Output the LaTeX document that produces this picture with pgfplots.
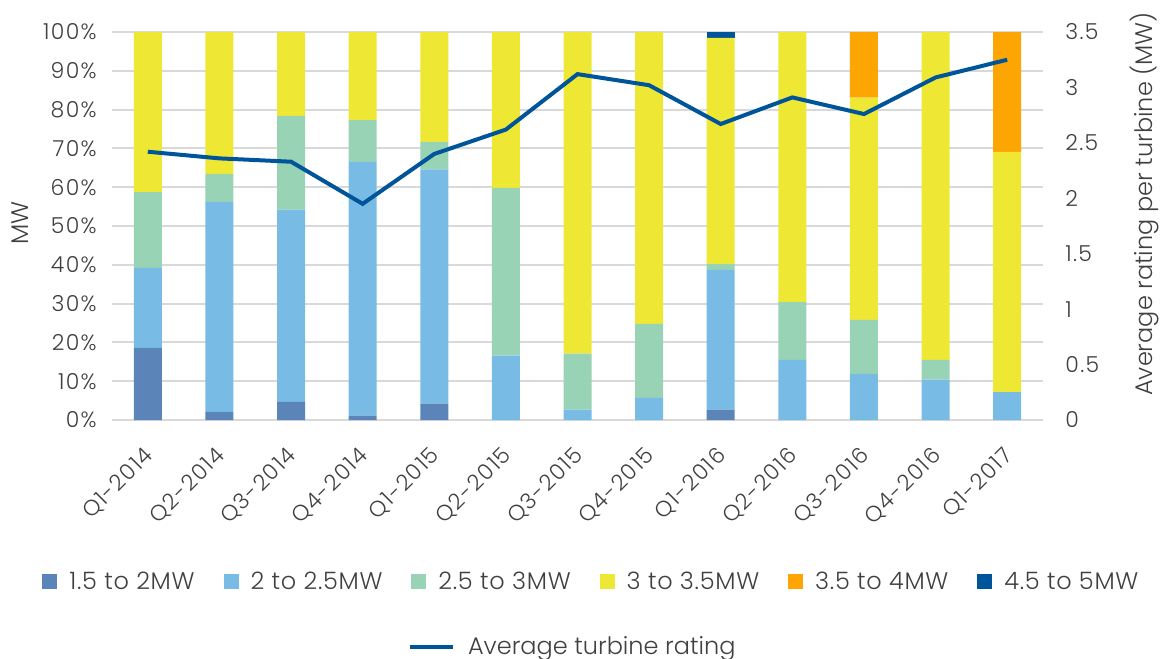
\documentclass[border=0pt]{standalone}
\usepackage{fontspec}
\setmainfont{Poppins}[UprightFont={* Light}]
\newfontfamily\tickfont{Poppins}[UprightFont={* Light}, LetterSpace=6]
\newfontfamily\legfont{Poppins}[UprightFont={* Light}, LetterSpace=3]
\usepackage{pgfplots}
\usepackage{pgfplotstable}
\pgfplotsset{compat=1.18}

\definecolor{c1}{HTML}{5B84B8}
\definecolor{c2}{HTML}{78BCE6}
\definecolor{c3}{HTML}{98D3B5}
\definecolor{c4}{HTML}{EEE834}
\definecolor{c5}{HTML}{FCA503}
\definecolor{c6}{HTML}{00559A}
\definecolor{txt}{HTML}{404040}
\definecolor{gridc}{HTML}{D9D9D9}

% share of MW per rating band, per quarter
\pgfplotstableread{
x a b c d e f
0 18.6 20.6 19.5 41.3 0 0
1 2.1 54.1 7.2 36.6 0 0
2 4.7 49.5 24.2 21.6 0 0
3 1.1 65.4 10.8 22.7 0 0
4 4.2 60.4 7.1 28.3 0 0
5 0 16.6 43.2 40.2 0 0
6 0 2.7 14.4 82.9 0 0
7 0 5.7 19.1 75.2 0 0
8 2.7 36.0 1.5 58.3 0 1.5
9 0 15.5 14.9 69.6 0 0
10 0 11.9 13.9 57.3 16.9 0
11 0 10.4 5.1 84.5 0 0
12 0 7.2 0 61.9 30.9 0
}\shares

% average turbine rating (MW)
\pgfplotstableread{
x r
0 2.42
1 2.36
2 2.33
3 1.95
4 2.40
5 2.62
6 3.12
7 3.02
8 2.67
9 2.91
10 2.76
11 3.09
12 3.25
}\rating

\begin{document}
\begin{tikzpicture}
\pgfplotsset{
  base/.style={
    scale only axis, width=465.5pt, height=194pt,
    xmin=-0.5, xmax=12.5,
    tick style={draw=none}, major tick length=0pt,
    axis line style={draw=none},
    /pgf/number format/assume math mode=true,
    tick label style={font=\tickfont\fontsize{11}{12}\selectfont, text=txt},
    label style={font=\fontsize{12}{14}\selectfont, text=txt},
    legend style={draw=none, fill=none, font=\legfont\fontsize{12}{14}\selectfont, text=txt},
  }
}
\begin{axis}[
    base, name=ax,
    ybar stacked, bar width=14pt,
    ymin=0, ymax=100, ytick={0,10,...,100},
    yticklabel={\pgfmathprintnumber{\tick}\%},
    ymajorgrids, grid style={gridc, line width=1pt},
    xtick={0,...,12},
    xticklabels={Q1-2014,Q2-2014,Q3-2014,Q4-2014,Q1-2015,Q2-2015,Q3-2015,Q4-2015,Q1-2016,Q2-2016,Q3-2016,Q4-2016,Q1-2017},
    xticklabel style={inner sep=0pt, xshift=1pt, yshift=-16pt, rotate=45, anchor=east},
    yticklabel style={inner sep=0pt, xshift=-7.5pt},
    ylabel={MW},
    ylabel style={at={(axis description cs:-0.099,0.508)}, anchor=center},
    legend columns=6,
    legend style={at={(0.516,-0.4175)}, anchor=center,
      /tikz/every odd column/.append style={column sep=4pt},
      /tikz/every even column/.append style={column sep=12.5pt}},
    legend image code/.code={\fill[#1,/tikz/.cd,draw=none] (0pt,-3.75pt) rectangle (7.5pt,3.75pt);},
]
\addplot[fill=c1, draw=none] table[x=x,y=a] {\shares};
\addlegendentry{1.5 to 2MW}
\addplot[fill=c2, draw=none] table[x=x,y=b] {\shares};
\addlegendentry{2 to 2.5MW}
\addplot[fill=c3, draw=none] table[x=x,y=c] {\shares};
\addlegendentry{2.5 to 3MW}
\addplot[fill=c4, draw=none] table[x=x,y=d] {\shares};
\addlegendentry{3 to 3.5MW}
\addplot[fill=c5, draw=none] table[x=x,y=e] {\shares};
\addlegendentry{3.5 to 4MW}
\addplot[fill=c6, draw=none] table[x=x,y=f] {\shares};
\addlegendentry{4.5 to 5MW}
\draw[gridc, line width=1pt] (rel axis cs:0,0) -- (rel axis cs:1,0);
\end{axis}

\begin{axis}[
    base,
    axis y line*=right, axis x line=none,
    ymin=0, ymax=3.5, ytick={0,0.5,1,1.5,2,2.5,3,3.5},
    yticklabel style={inner sep=0pt, xshift=11pt, anchor=west},
    ylabel={Average rating per turbine (MW)},
    ylabel style={at={(axis description cs:1.1085,0.557)}, anchor=center},
    legend style={at={(0.496,-0.585)}, anchor=center,
      font=\fontsize{12}{14}\selectfont,
      /tikz/every odd column/.append style={column sep=4.5pt}},
    legend image code/.code={\draw[#1,/tikz/.cd] (0pt,0pt) -- (21.5pt,0pt);},
]
\addplot[color=c6, line width=2pt, mark=none] table[x=x,y=r] {\rating};
\addlegendentry{Average turbine rating}
\end{axis}

\pgfresetboundingbox
\path[use as bounding box] ([xshift=-56pt,yshift=-119.5pt]ax.south west) rectangle ([xshift=60pt,yshift=16pt]ax.north east);
\end{tikzpicture}
\end{document}
